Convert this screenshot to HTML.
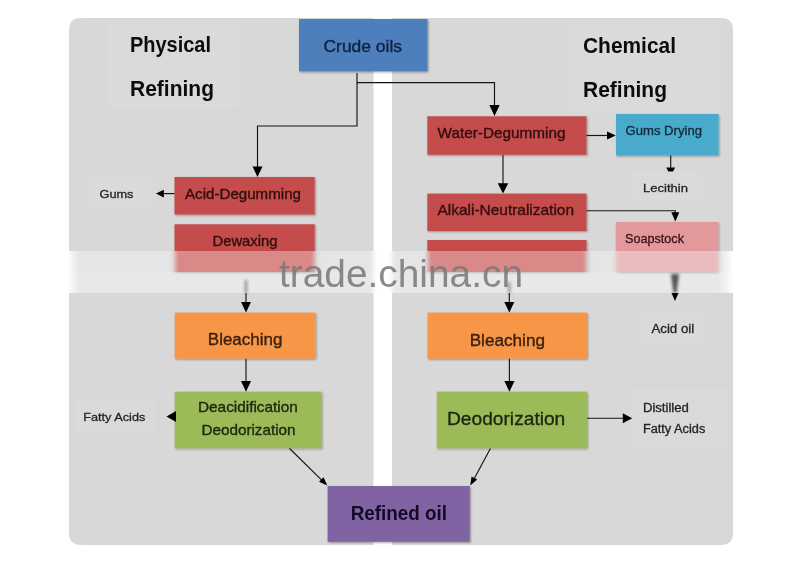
<!DOCTYPE html>
<html>
<head>
<meta charset="utf-8">
<title>Oil refining flow</title>
<style>
html,body{margin:0;padding:0;background:#fff;}
body{width:800px;height:572px;overflow:hidden;font-family:"Liberation Sans",sans-serif;}
svg{display:block;filter:blur(0.45px);}
text{font-family:"Liberation Sans",sans-serif;fill:#1c1c1c;stroke:#1c1c1c;stroke-width:0.35;}
.b{font-weight:bold;fill:#0c0c0c;stroke:none;}
.s{fill:#242428;stroke:#242428;stroke-width:0.3;}
.r{fill:#330d0e;stroke:#330d0e;}
.o{fill:#3a2010;stroke:#3a2010;}
.g{fill:#1c2610;stroke:#1c2610;}
.ln{stroke:#151515;stroke-width:1.15;fill:none;}
.ah{fill:#000;}
.tb{fill:#dadada;}
</style>
</head>
<body>
<svg width="800" height="572" viewBox="0 0 800 572">
<defs>
  <filter id="sh" x="-5%" y="-10%" width="110%" height="125%">
    <feGaussianBlur in="SourceAlpha" stdDeviation="0.8"/>
    <feOffset dx="0.6" dy="1.2"/>
    <feComponentTransfer><feFuncA type="linear" slope="0.35"/></feComponentTransfer>
    <feMerge><feMergeNode/><feMergeNode in="SourceGraphic"/></feMerge>
  </filter>
  <filter id="bl" x="-100%" y="-20%" width="300%" height="140%"><feGaussianBlur stdDeviation="1.6"/></filter>
  <clipPath id="bandclip"><rect x="0" y="251" width="800" height="42"/></clipPath>
  <filter id="frost" x="0" y="0" width="800" height="572" filterUnits="userSpaceOnUse"><feGaussianBlur stdDeviation="2 0.6"/></filter>
  <linearGradient id="band2" x1="0" x2="1" y1="0" y2="0">
    <stop offset="0" stop-color="#fff" stop-opacity="0"/>
    <stop offset="0.03" stop-color="#fff" stop-opacity="0.12"/>
    <stop offset="0.97" stop-color="#fff" stop-opacity="0.12"/>
    <stop offset="1" stop-color="#fff" stop-opacity="0"/>
  </linearGradient>
  <linearGradient id="band" x1="0" x2="1" y1="0" y2="0">
    <stop offset="0" stop-color="#fff" stop-opacity="1"/>
    <stop offset="0.009" stop-color="#fff" stop-opacity="1"/>
    <stop offset="0.028" stop-color="#fff" stop-opacity="0.34"/>
    <stop offset="0.965" stop-color="#fff" stop-opacity="0.34"/>
    <stop offset="0.99" stop-color="#fff" stop-opacity="1"/>
    <stop offset="1" stop-color="#fff" stop-opacity="1"/>
  </linearGradient>
</defs>
<rect width="800" height="572" fill="#fff"/>

<g id="main">
<!-- panels -->
<path d="M81,18 H373.500 V545 H81 Q69,545 69,533 V30 Q69,18 81,18 Z" fill="#d8d8d8"/>
<path d="M392,18 H721 Q733,18 733,30 V533 Q733,545 721,545 H392 Z" fill="#d8d8d8"/>

<!-- faint text-box backgrounds -->
<rect class="tb" x="107" y="24" width="132" height="84"/>
<rect class="tb" x="570" y="24" width="150" height="86"/>
<rect class="tb" x="88" y="177" width="64" height="33"/>
<rect class="tb" x="75" y="400" width="80" height="34"/>
<rect class="tb" x="632" y="389" width="97" height="61"/>
<rect class="tb" x="640" y="312" width="66" height="34"/>
<rect class="tb" x="630" y="172" width="72" height="30"/>

<!-- connector lines -->
<path class="ln" d="M357,73 V126 H257.500 V168"/>
<path class="ln" d="M357,82.600 H494.500 V107"/>
<path class="ah" d="M252.500,166.500 H262.500 L257.500,177 Z"/>
<path class="ah" d="M489.300,105 H499.700 L494.500,116 Z"/>

<!-- boxes -->
<g filter="url(#sh)">
<rect x="299" y="19" width="128.500" height="52.400" fill="#4d7fbc"/>
<rect x="174.500" y="177" width="140.200" height="37.500" fill="#c44d4c"/>
<rect x="174.500" y="224.300" width="140.200" height="47.700" fill="#c44d4c"/>
<rect x="174.700" y="312.600" width="140.700" height="46.100" fill="#f79646"/>
<rect x="174.700" y="391.700" width="146.800" height="56.600" fill="#9bbb59"/>
<rect x="427.300" y="116.300" width="159.200" height="38.500" fill="#c44d4c"/>
<rect x="427.300" y="193.600" width="159.200" height="37.400" fill="#c44d4c"/>
<rect x="427.300" y="240" width="159.200" height="32" fill="#c44d4c"/>
<rect x="616" y="114" width="102.500" height="41.500" fill="#49abcb"/>
<rect x="615.800" y="222" width="102.400" height="50" fill="#e3989c"/>
<rect x="427.500" y="312.600" width="159.400" height="46.100" fill="#f79646"/>
<rect x="436.800" y="391.700" width="150.100" height="56.600" fill="#9bbb59"/>
<rect x="327.600" y="486" width="142.200" height="55.800" fill="#8064a2"/>
</g>

<!-- arrows -->
<path class="ln" d="M174.500,193.600 H163"/><path class="ah" d="M163.800,189.800 V197.400 L156,193.600 Z"/>
<path class="ln" d="M586.500,135.500 H608"/><path class="ah" d="M607,131.600 V139.400 L615.800,135.500 Z"/>
<path class="ln" d="M503,155 V184"/><path class="ah" d="M497.700,183.300 H508.300 L503,193.600 Z"/>
<path class="ln" d="M670.700,155.500 V168"/><path class="ah" d="M666.200,167.500 H675.200 L673,171.500 H668.400 Z"/>
<path class="ln" d="M586.500,210.700 H675.300 V213"/><path class="ah" d="M671.300,212.300 H679.300 L675.300,221.500 Z"/>

<path class="ln" d="M246,293 V303"/><path class="ah" d="M241,302 H251 L246,312.500 Z"/>
<path class="ln" d="M509.300,293 V303"/><path class="ah" d="M504.300,302 H514.300 L509.300,312.500 Z"/>
<path class="ah" d="M671.500,293 H678.500 L675,301 Z"/>

<path class="ln" d="M246,358.700 V381.500"/><path class="ah" d="M241,381 H251 L246,391.700 Z"/>
<path class="ln" d="M509.400,358.700 V381.500"/><path class="ah" d="M504.400,381 H514.500 L509.400,391.700 Z"/>
<path class="ah" d="M176,411 V422 L166.500,416.400 Z"/>
<path class="ln" d="M587,418.200 H623.500"/><path class="ah" d="M622.800,413.200 V423.300 L632.200,418.200 Z"/>
<path class="ln" d="M289.600,448.500 L322.500,480.800"/><path class="ah" d="M327.300,485.500 L319,481.800 L323.500,477.300 Z"/>
<path class="ln" d="M490.400,448.500 L474,479"/><path class="ah" d="M470.300,485.500 L471.500,476.500 L477.200,479.600 Z"/>

<!-- labels -->
<text class="b" x="130" y="52" font-size="21.300" textLength="81" lengthAdjust="spacingAndGlyphs">Physical</text>
<text class="b" x="130" y="95.500" font-size="21.300" textLength="84" lengthAdjust="spacingAndGlyphs">Refining</text>
<text class="b" x="583" y="53" font-size="21.300" textLength="93" lengthAdjust="spacingAndGlyphs">Chemical</text>
<text class="b" x="583" y="96.800" font-size="21.300" textLength="84" lengthAdjust="spacingAndGlyphs">Refining</text>
<text x="323.500" y="52" font-size="17.200" textLength="78.500" lengthAdjust="spacingAndGlyphs" style="fill:#10203f;stroke:#10203f">Crude oils</text>
<text class="r" x="437.500" y="138.200" font-size="15" textLength="128" lengthAdjust="spacingAndGlyphs">Water-Degumming</text>
<text class="r" x="437.500" y="214.900" font-size="15" textLength="136.500" lengthAdjust="spacingAndGlyphs">Alkali-Neutralization</text>
<text class="r" x="185" y="198.600" font-size="14.600" textLength="116" lengthAdjust="spacingAndGlyphs">Acid-Degumming</text>
<text class="r" x="212.500" y="245.600" font-size="14.600" textLength="65" lengthAdjust="spacingAndGlyphs">Dewaxing</text>
<text class="s" x="625.500" y="134.500" font-size="12.200" textLength="76.500" lengthAdjust="spacingAndGlyphs" style="fill:#12293f;stroke:#12293f">Gums Drying</text>
<text class="s" x="643" y="191.600" font-size="11.600" textLength="45" lengthAdjust="spacingAndGlyphs">Lecithin</text>
<text class="s" x="625" y="242.500" font-size="12" textLength="59" lengthAdjust="spacingAndGlyphs" style="fill:#3a1418;stroke:#3a1418">Soapstock</text>
<text class="s" x="99.500" y="198.200" font-size="11.600" textLength="34" lengthAdjust="spacingAndGlyphs">Gums</text>
<text class="o" x="207.800" y="345.300" font-size="17.300" textLength="74.600" lengthAdjust="spacingAndGlyphs">Bleaching</text>
<text class="o" x="469.700" y="345.500" font-size="17.300" textLength="75.300" lengthAdjust="spacingAndGlyphs">Bleaching</text>
<text class="g" x="198" y="412.400" font-size="14.400" textLength="99.800" lengthAdjust="spacingAndGlyphs">Deacidification</text>
<text class="g" x="201.400" y="434.600" font-size="14.400" textLength="94.200" lengthAdjust="spacingAndGlyphs">Deodorization</text>
<text class="g" x="447" y="425" font-size="18.900" textLength="118.300" lengthAdjust="spacingAndGlyphs">Deodorization</text>
<text class="s" x="83.200" y="421.300" font-size="11.800" textLength="62.200" lengthAdjust="spacingAndGlyphs">Fatty Acids</text>
<text class="s" x="651.400" y="333.200" font-size="12" textLength="42.900" lengthAdjust="spacingAndGlyphs">Acid oil</text>
<text class="s" x="642.900" y="411.500" font-size="12" textLength="46" lengthAdjust="spacingAndGlyphs">Distilled</text>
<text class="s" x="642.900" y="432.800" font-size="12" textLength="62.400" lengthAdjust="spacingAndGlyphs">Fatty Acids</text>
<text class="b" x="350.700" y="520.300" font-size="19.600" textLength="96.300" lengthAdjust="spacingAndGlyphs" style="fill:#140a26">Refined oil</text>
</g>

<!-- watermark band: frosted copy + white veil -->
<g clip-path="url(#bandclip)">
  <rect x="0" y="240" width="800" height="70" fill="#fff"/>
  <use href="#main" filter="url(#frost)"/>
</g>
<rect x="60" y="251" width="682" height="42" fill="url(#band)"/>
<rect x="60" y="272" width="682" height="21" fill="url(#band2)"/>
<!-- blurred arrow shafts under band -->
<g filter="url(#bl)">
  <path d="M671,274 H679 L676.500,293 H673.500 Z" fill="#222" opacity="0.75"/>
  <path d="M245,280 H247 V293 H245 Z" fill="#222" opacity="0.55"/>
  <path d="M508.300,282 H510.300 V293 H508.300 Z" fill="#222" opacity="0.55"/>
</g>
<text x="279" y="286.500" font-size="38" textLength="244" lengthAdjust="spacingAndGlyphs" style="fill:#7a7a7a;stroke:none" fill-opacity="0.88">trade.china.cn</text>
</svg>
</body>
</html>
